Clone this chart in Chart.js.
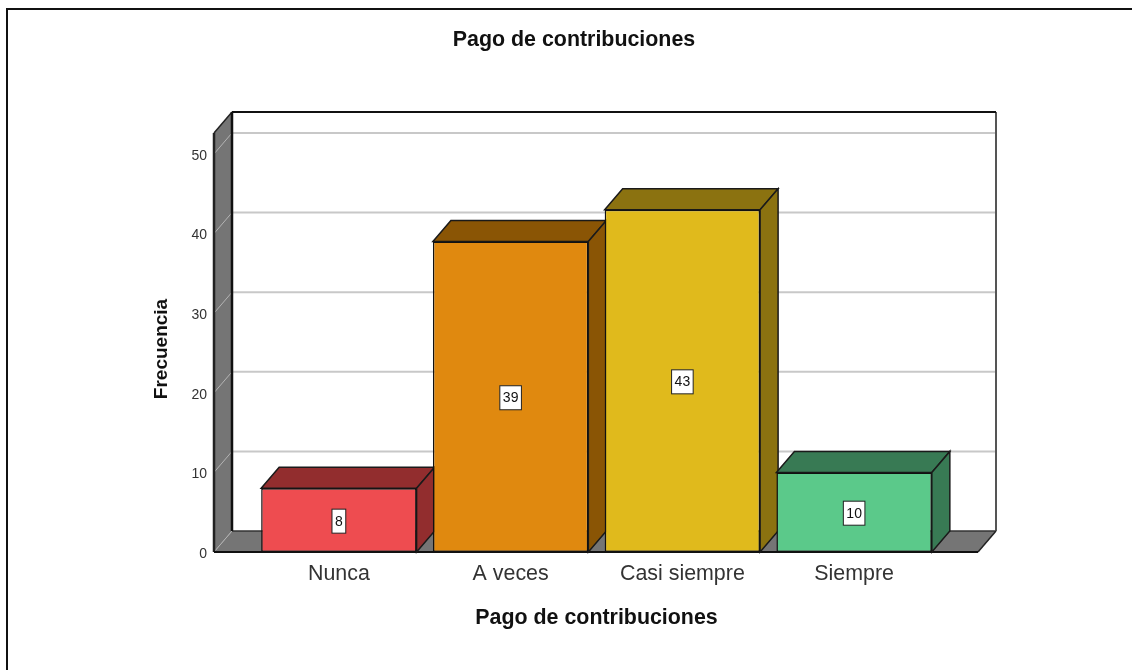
<!DOCTYPE html>
<html>
<head>
<meta charset="utf-8">
<title>Pago de contribuciones</title>
<script src="https://cdn.jsdelivr.net/npm/chart.js@4"></script>
<style>
  html, body { margin: 0; padding: 0; background: #fff; width: 1132px; height: 670px; overflow: hidden; }
  #frame { position: absolute; left: 6px; top: 8px; right: 0; bottom: 0; border-top: 2px solid #111; border-left: 2px solid #111; }
  canvas { position: absolute; left: 0; top: 0; }
</style>
</head>
<body>
<div id="frame"></div>
<canvas id="chart-pago" width="1132" height="670"></canvas>
<script>
const categories = ['Nunca', 'A veces', 'Casi siempre', 'Siempre'];
const frecuencia = [8, 39, 43, 10];
const yTickStep = 10;
const yMax = 51;

const frontColors = ['#ee4c50', '#e0890f', '#e0ba1c', '#5bc98a'];
const shadeColors = ['#922d2e', '#8a5505', '#8b7210', '#387a54'];

// 3D look: depth of the box and how far the walls go past the category band
const depth = { x: 18, y: 21 };
const wallPad = { left: 39, right: 38, top: 13 };
const wallGray = '#757575';
const gridGray = '#c8c8c8';

function poly(ctx, pts, fill, stroke, lw) {
  ctx.beginPath();
  pts.forEach((p, i) => i ? ctx.lineTo(p[0], p[1]) : ctx.moveTo(p[0], p[1]));
  ctx.closePath();
  if (fill) { ctx.fillStyle = fill; ctx.fill(); }
  if (stroke) { ctx.strokeStyle = stroke; ctx.lineWidth = lw || 1.5; ctx.stroke(); }
}

function line(ctx, x1, y1, x2, y2, color, lw) {
  ctx.beginPath();
  ctx.moveTo(x1, y1);
  ctx.lineTo(x2, y2);
  ctx.strokeStyle = color;
  ctx.lineWidth = lw;
  ctx.stroke();
}

// -------------------- walls, floor, grid and bar shading --------------------
const box3d = {
  id: 'box3d',
  afterLayout(chart) {
    // the page title sits a bit right of the centre of the layout box
    chart.titleBlock.left += 58;
  },
  beforeDatasetsDraw(chart) {
    const { ctx, chartArea, scales } = chart;
    const left = chartArea.left - wallPad.left;
    const right = chartArea.right + wallPad.right;
    const top = chartArea.top - wallPad.top;
    const bottom = chartArea.bottom;
    const dx = depth.x, dy = depth.y;

    ctx.save();
    // side wall and floor
    poly(ctx, [[left, top], [left + dx, top - dy], [left + dx, bottom - dy], [left, bottom]], wallGray);
    poly(ctx, [[left, bottom], [left + dx, bottom - dy], [right + dx, bottom - dy], [right, bottom]], wallGray);

    // grid on back wall and side wall
    scales.y.ticks.forEach(t => {
      const y = scales.y.getPixelForValue(t.value);
      if (t.value !== 0) line(ctx, left + dx, y - dy, right + dx, y - dy, gridGray, 2);
      line(ctx, left, y, left + dx, y - dy, '#b4b4b4', 1);
    });

    // outlines
    line(ctx, left + dx, bottom - dy, right + dx, bottom - dy, '#333', 1.5);
    line(ctx, right + dx, top - dy, right + dx, bottom - dy, '#555', 2);
    line(ctx, right + dx, bottom - dy, right, bottom, '#222', 1.5);
    line(ctx, left, top, left + dx, top - dy, '#222', 1.5);
    line(ctx, left + dx, top - dy, right + dx, top - dy, '#111', 2);
    line(ctx, left + dx, top - dy, left + dx, bottom - dy, '#111', 2.5);
    line(ctx, left, top, left, bottom, '#222', 2.5);
    line(ctx, left, bottom, right, bottom, '#111', 2);

    // top and side of each bar, front faces come after from the bar controller
    chart.getDatasetMeta(0).data.forEach((bar, i) => {
      const hw = bar.width / 2;
      const x0 = bar.x - hw, x1 = bar.x + hw;
      poly(ctx, [[x0, bar.y], [x0 + dx, bar.y - dy], [x1 + dx, bar.y - dy], [x1, bar.y]], shadeColors[i], '#1a1a1a', 1.5);
      poly(ctx, [[x1, bar.y], [x1 + dx, bar.y - dy], [x1 + dx, bar.base - dy], [x1, bar.base]], shadeColors[i], '#1a1a1a', 1.5);
    });
    ctx.restore();
  },
  afterDatasetsDraw(chart) {
    const { ctx } = chart;
    ctx.save();
    ctx.font = '14px "Liberation Sans"';
    ctx.textAlign = 'center';
    ctx.textBaseline = 'middle';
    chart.getDatasetMeta(0).data.forEach((bar, i) => {
      const label = String(frecuencia[i]);
      const w = ctx.measureText(label).width + 6;
      const h = 24;
      const cy = (bar.y + bar.base) / 2 + 1;
      ctx.fillStyle = '#fff';
      ctx.fillRect(bar.x - w / 2, cy - h / 2, w, h);
      ctx.strokeStyle = '#222';
      ctx.lineWidth = 1;
      ctx.strokeRect(bar.x - w / 2, cy - h / 2, w, h);
      ctx.fillStyle = '#111';
      ctx.fillText(label, bar.x, cy + 0.5);
    });
    ctx.restore();
  },
};

new Chart(document.getElementById('chart-pago'), {
  type: 'bar',
  data: {
    labels: categories,
    datasets: [{
      label: 'Frecuencia', data: frecuencia,
      backgroundColor: frontColors, borderColor: '#111', borderWidth: 1.5, borderSkipped: false,
      categoryPercentage: 1, barPercentage: 0.905,
    }],
  },
  options: {
    responsive: false, animation: false,
    layout: { padding: { left: 150, right: 192, top: 0, bottom: 39.15 } },
    plugins: {
      legend: { display: false },
      tooltip: { enabled: false },
      title: {
        display: true, text: 'Pago de contribuciones', color: '#111',
        font: { family: '"Liberation Sans"', size: 21.4, weight: 'bold' },
        padding: { top: 27.2, bottom: 93.1 },
      },
    },
    scales: {
      x: {
        grid: { display: false, drawTicks: false }, border: { display: false },
        ticks: { color: '#333', font: { family: '"Liberation Sans"', size: 21.4 }, padding: 9, autoSkip: false, maxRotation: 0 },
        title: { display: true, text: 'Pago de contribuciones', color: '#111', padding: 0,
                 font: { family: '"Liberation Sans"', size: 21.4, weight: 'bold' } },
        afterFit(scale) { scale.height = 78.85; },
      },
      y: {
        min: 0, max: yMax,
        grid: { display: false, drawTicks: false }, border: { display: false },
        ticks: { stepSize: yTickStep, includeBounds: false, color: '#333', padding: 46, labelOffset: 2,
                 font: { family: '"Liberation Sans"', size: 14 } },
        title: { display: true, text: 'Frecuencia', color: '#111', padding: 0,
                 font: { family: '"Liberation Sans"', size: 19, weight: 'bold' } },
        afterFit(scale) { scale.width = 103; },
      },
    },
  },
  plugins: [box3d],
});
</script>
</body>
</html>
